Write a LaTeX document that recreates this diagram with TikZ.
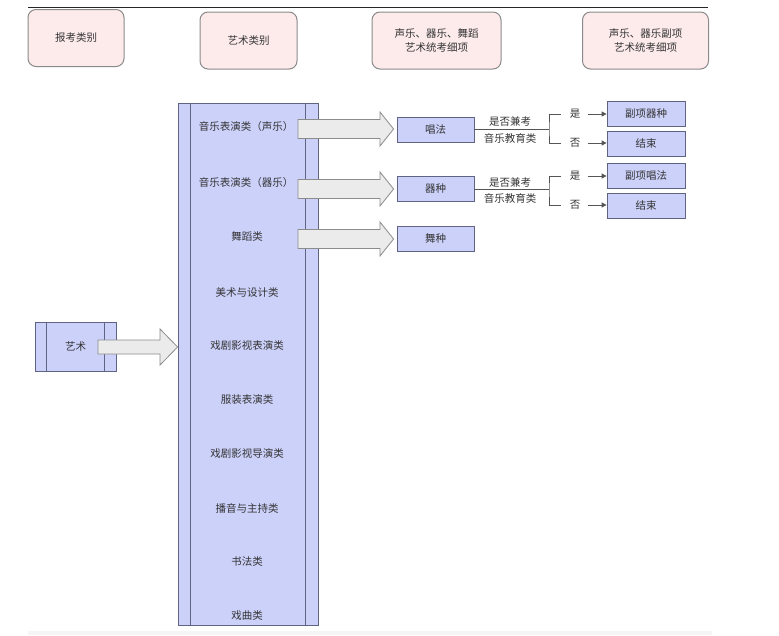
\documentclass[tikz,border=0pt]{standalone}
\usepackage{fontspec}
\newfontfamily\cjk{Noto Sans CJK SC}
\usetikzlibrary{arrows.meta,calc}
\definecolor{hdrfill}{HTML}{FDEBEC}
\definecolor{hdrdraw}{HTML}{8A8A8A}
\definecolor{boxfill}{HTML}{CCD1FA}
\definecolor{boxdraw}{HTML}{5F6485}
\definecolor{arrfill}{HTML}{EBEBEB}
\definecolor{arrdraw}{HTML}{8C8C8C}
\definecolor{linec}{HTML}{555555}
\definecolor{txt}{HTML}{333333}
\begin{document}
\begin{tikzpicture}[x=1pt,y=-1pt,
  font=\cjk\fontsize{10.5}{13.5}\selectfont, text=txt,
  hdr/.style={draw=hdrdraw, fill=hdrfill, rounded corners=8pt, line width=1pt,
    inner sep=0pt, align=center, minimum height=57pt},
  bbox/.style={draw=boxdraw, fill=boxfill, line width=0.8pt, inner sep=0pt,
    minimum width=78pt, minimum height=25pt},
  fat/.style={draw=arrdraw, fill=arrfill, line width=0.8pt, line join=miter},
  conn/.style={draw=linec, line width=0.9pt},
  tip/.style={conn, -{Triangle[length=5pt,width=5pt]}},
  lbl/.style={inner sep=0pt}]
\useasboundingbox (0,0) rectangle (779,635);
% top rule and faint bottom band
\fill[black!85] (28,6.6) rectangle (708,7.4);
\fill[black!4] (28,631) rectangle (712,635);
% headers
\node[hdr, minimum width=96pt] (h1) at (76,38) {报考类别};
\node[hdr, minimum width=97pt] (h2) at (248.5,40.5) {艺术类别};
\node[hdr, minimum width=129pt] (h3) at (436.5,40.5) {声乐、器乐、舞蹈\\艺术统考细项};
\node[hdr, minimum width=126pt] (h4) at (645.5,40.5) {声乐、器乐副项\\艺术统考细项};
% big list box
\node[draw=boxdraw, fill=boxfill, line width=0.8pt, minimum width=140pt,
  minimum height=522pt, inner sep=0pt] (big) at (248,364) {};
\draw[boxdraw, line width=0.8pt] ($(big.north west)+(13,0)$) -- ($(big.south west)+(13,0)$);
\draw[boxdraw, line width=0.8pt] ($(big.north east)+(-13,0)$) -- ($(big.south east)+(-13,0)$);
\node[lbl] (c1) at (246,127) {音乐表演类（声乐）};
\node[lbl] (c2) at (246,183) {音乐表演类（器乐）};
\node[lbl] (c3) at (247,237) {舞蹈类};
\node[lbl] (c4) at (247,292) {美术与设计类};
\node[lbl] (c5) at (247,346) {戏剧影视表演类};
\node[lbl] (c6) at (247,400) {服装表演类};
\node[lbl] (c7) at (247,454) {戏剧影视导演类};
\node[lbl] (c8) at (247,508) {播音与主持类};
\node[lbl] (c9) at (247,562) {书法类};
\node[lbl] (c10) at (247,616) {戏曲类};
% art box
\node[draw=boxdraw, fill=boxfill, line width=0.8pt, minimum width=81pt,
  minimum height=49pt, inner sep=0pt] (art) at (75.5,346.5) {艺术};
\draw[boxdraw, line width=0.8pt] ($(art.north west)+(12,0)$) -- ($(art.south west)+(12,0)$);
\draw[boxdraw, line width=0.8pt] ($(art.north east)+(-12,0)$) -- ($(art.south east)+(-12,0)$);
% fat arrow art -> big
\draw[fat] (98,340) -- (160,340) -- (160,329) -- (big.west |- 0,347) -- (160,365) -- (160,354) -- (98,354) -- cycle;
% second column boxes
\node[bbox, minimum width=77pt] (s1) at (435.5,129.5) {唱法};
\node[bbox, minimum width=77pt] (s2) at (435.5,189) {器种};
\node[bbox, minimum width=77pt] (s3) at (435.5,239) {舞种};
% fat arrows big -> boxes
\foreach \n/\yy in {s1/129, s2/189, s3/239}{
  \draw[fat] (298,\yy-9.5) -- (380,\yy-9.5) -- (380,\yy-17) -- ($(\n.west |- 0,\yy)+(-3,0)$)
    -- (380,\yy+17) -- (380,\yy+9.5) -- (298,\yy+9.5) -- cycle;
}
% right column boxes
\node[bbox] (r1) at (646,113.5) {副项器种};
\node[bbox] (r2) at (646,143.5) {结束};
\node[bbox] (r3) at (646,175.5) {副项唱法};
\node[bbox] (r4) at (646,205.5) {结束};
% yes / no labels
\node[lbl] (y1) at (575,114) {是};
\node[lbl] (n1) at (575,143) {否};
\node[lbl] (y2) at (575,176) {是};
\node[lbl] (n2) at (575,205) {否};
% question labels
\node[lbl] at (510,121) {是否兼考};
\node[lbl] at (510,138) {音乐教育类};
\node[lbl] at (510,182) {是否兼考};
\node[lbl] at (510,198) {音乐教育类};
% branch connectors
\coordinate (b1) at (549,129.5);
\coordinate (b2) at (549,189);
\draw[conn] (s1.east) -- (b1);
\draw[conn] ([xshift=-9pt]y1.west) -| (b1) |- ([xshift=-9pt]n1.west);
\draw[conn] (s2.east) -- (b2);
\draw[conn] ([xshift=-9pt]y2.west) -| (b2) |- ([xshift=-9pt]n2.west);
\draw[tip] ([xshift=8pt]y1.east) -- (r1.west |- y1);
\draw[tip] ([xshift=8pt]n1.east) -- (r2.west |- n1);
\draw[tip] ([xshift=8pt]y2.east) -- (r3.west |- y2);
\draw[tip] ([xshift=8pt]n2.east) -- (r4.west |- n2);
\end{tikzpicture}
\end{document}
